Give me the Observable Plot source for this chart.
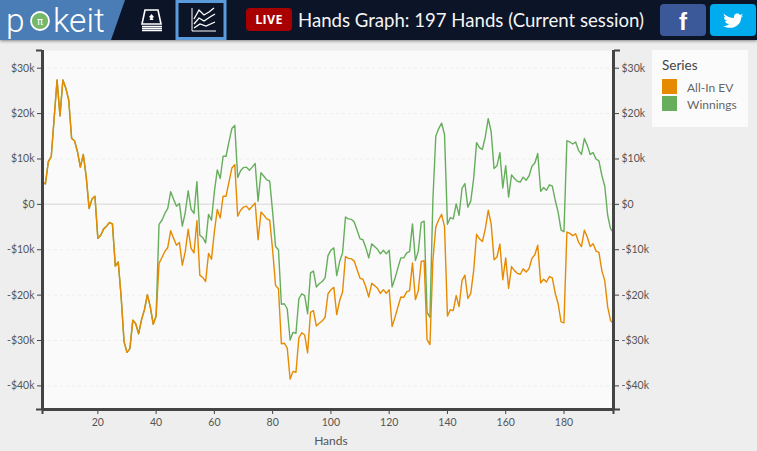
<!DOCTYPE html>
<html><head><meta charset="utf-8">
<script src="https://cdn.jsdelivr.net/npm/d3@7"></script>
<script src="https://cdn.jsdelivr.net/npm/@observablehq/plot@0.6"></script>
<style>
html,body{margin:0;padding:0;background:#eeeeee;overflow:hidden;}
body{width:757px;height:451px;position:relative;font-family:Lato,"Open Sans",sans-serif;}
#hdr{position:relative;width:757px;height:40px;background:#0c1428;box-shadow:0 1px 3px rgba(0,0,0,.45);z-index:2;}
#hdr svg{position:absolute;left:0;top:0;}
#ttl{position:absolute;left:298px;top:8px;font-size:18.6px;line-height:24px;color:#f4f4f4;white-space:nowrap;font-family:Lato,sans-serif;}
#live{position:absolute;left:246px;top:8px;width:46px;height:23px;border-radius:4px;background:#a80000;color:#fff;font:bold 12.5px/23px "Open Sans",sans-serif;text-align:center;letter-spacing:.3px;}
#chart{position:absolute;left:0;top:40px;}
#legend{position:absolute;left:652px;top:50px;width:96px;height:77px;background:#fbfbfb;z-index:1;color:#555;}
#legend .t{position:absolute;left:10px;top:7px;font-size:13.5px;line-height:16px;color:#444;}
#legend .s{position:absolute;left:10px;width:15px;height:15px;}
#legend .l{position:absolute;left:35px;font-size:12px;line-height:15px;color:#666;}
</style></head><body>
<div id="hdr">
<svg width="757" height="40" viewBox="0 0 757 40">
<polygon points="0,0 125,0 111,40 0,40" fill="#4a7db5"/>
<text x="6" y="31.500" font-family="Roboto" font-weight="300" font-size="33.500" fill="#fff">p</text>
<circle cx="40" cy="21" r="9" fill="#76b86a" stroke="#fff" stroke-width="1.800"/>
<text x="40" y="25" font-family="DejaVu Sans" font-size="10" fill="#fff" text-anchor="middle">π</text>
<text x="53" y="31.500" font-family="Roboto" font-weight="300" font-size="33.500" fill="#fff">keit</text>
<rect x="177" y="1.500" width="48" height="37" fill="none" stroke="#5b9bdc" stroke-width="3"/>
<g fill="none" stroke="#fff">
<path d="M145,10 L158,10 L161,24 L142,24 Z" stroke-width="1.600"/>
<path d="M142,26.500 H162 M142,28.500 H162 M142,30.500 H162" stroke-width="1.300"/>
<path d="M192,8 V31 H216" stroke-width="1"/>
<path d="M194,19 L199,10 L204,15 L209,12 L214,8 M194,24 L199,18 L204,21 L210,17 L215,14 M194,28 L200,24 L206,26 L215,22" stroke-width="1.300"/>
</g>
<path d="M151.500,14 l2.500,3 l-1.500,1 l1,2 h-4 l1,-2 l-1.500,-1 z" fill="#fff"/>
<rect x="660" y="4" width="46" height="32" rx="4" fill="#3b5998"/>
<rect x="710" y="4" width="46" height="32" rx="4" fill="#00aced"/>
<text x="683" y="30" font-family="Liberation Sans" font-weight="bold" font-size="24" fill="#fff" text-anchor="middle">f</text>
<path d="M724,14 c4,3 7,4 10,4 c-1,-4 4,-6 6,-3 l3,-1 l-2,2.500 l2,-.5 l-2,2 c0,7 -8,13 -18,8 c3,0 5,-.5 6,-2 c-2,0 -3.500,-1 -4,-3 l2,0 c-2,-1 -3,-2 -3,-4 l2,.5 c-2,-1.500 -2.500,-3 -2,-4.500 z" fill="#fff"/>
</svg>
<div id="live">LIVE</div>
<div id="ttl">Hands Graph: 197 Hands (Current session)</div>
</div>
<div id="chart"></div>
<div id="legend">
<div class="t">Series</div>
<div class="s" style="top:29px;background:#e68a00"></div><div class="l" style="top:30px">All-In EV</div>
<div class="s" style="top:46px;background:#66ad5c"></div><div class="l" style="top:47px">Winnings</div>
</div>
<script>
const seriesNames = ["All-In EV", "Winnings"];
const seriesColors = ["#e68a00", "#66ad5c"];
const yTicks = [30,20,10,0,-10,-20,-30,-40];
const xTicks = [20,40,60,80,100,120,140,160,180];
const allInEV = [
4.9,4.5,9.4,10.5,19,27.4,19.5,27.4,25.6,23,14.5,14,11.6,8.2,11,6.1,-0.9,1.2,1.8,-7.5,
-6.8,-5.4,-4.8,-4,-4.3,-13.6,-12.7,-20.4,-30.3,-32.6,-31.8,-25.5,-26.3,-28.5,-25.4,-23.2,-19.9,-22.6,-26.4,-24.6,
-13,-11.7,-10.4,-9.5,-5.8,-7.5,-9,-8.4,-13.4,-10.4,-5.5,-9.7,-10.7,-3.6,-15.6,-16.1,-17,-10.8,-12.1,-6,
-1.1,-3,1.8,1.8,4.9,8,8.75,-2.6,-1.3,-0.6,-0.4,-1.2,-0.4,0.3,-7.8,-1.7,-2.4,-3.2,-3.5,-10.1,
-17.9,-18.6,-30.7,-30.6,-31.6,-38.5,-36.8,-37,-29.4,-28.3,-28.8,-32.7,-23.8,-23.4,-26.8,-26.2,-25.7,-24.9,-19.7,-18.8,
-18.3,-24.3,-21.2,-19.3,-11.5,-11.9,-12,-12.5,-14.4,-16.3,-16.5,-18.2,-20.4,-17.4,-17.9,-18.5,-19.6,-18.8,-19.6,-18.8,
-26.9,-24.9,-22.6,-20.4,-20.5,-19.3,-19,-12.9,-21,-19,-12.6,-12.4,-29.8,-30.9,-12.4,-5,-3.4,-2.2,-4.9,-24.6,
-23.2,-23.4,-20.1,-22.5,-16.8,-15.6,-20.7,-19.6,-14.6,-6.6,-7.6,-8.2,-5.4,-1.3,-4.3,-12.2,-11.6,-8.75,-16.6,-11.8,
-18.5,-13.7,-14.6,-15.2,-15.4,-14.2,-14.9,-14.2,-11.9,-11.1,-9,-17.3,-16.5,-17.1,-15.9,-16.2,-19.6,-21.9,-25.9,-26.1,
-6.1,-6.4,-6.9,-6.5,-8.3,-9.3,-5.7,-7.2,-9.3,-8.7,-10.3,-10.6,-14.6,-16.8,-22.6,-25.6,-26.3];
const winnings = [
4.9,4.5,9.4,10.5,19,27.4,19.5,27.4,25.6,23,14.5,14,11.6,8.2,11,6.1,-0.9,1.2,1.8,-7.5,
-6.8,-5.4,-4.8,-4,-4.3,-13.6,-12.7,-20.4,-30.3,-32.6,-31.8,-25.5,-26.3,-28.5,-25.4,-23.2,-19.9,-22.6,-26.4,-24.6,
-4.4,-3.5,-2,-0.9,2.8,1.1,-0.4,0.2,-4.8,-1.8,3,-1.1,-2,5,-6.8,-7.3,-8.5,-2.2,-3.5,2.8,
7.6,5.7,10.6,10.6,13.75,16.7,17.4,5.9,7.4,8.1,8.2,7.5,8.2,9,0.7,7,6.2,5.4,5.1,-1.7,
-9.3,-10,-22,-21.9,-23,-29.9,-28.2,-28.4,-20.8,-19.7,-20.1,-24.1,-15.1,-14.7,-18.2,-17.5,-17,-16.2,-11.3,-10.1,
-9.6,-15.7,-12.6,-10.7,-2.8,-3.2,-3.3,-3.9,-5.7,-7.6,-7.8,-9.6,-11.8,-8.7,-9.3,-9.9,-10.9,-10.1,-10.9,-10.1,
-18.2,-16.3,-14,-11.8,-11.8,-10.7,-10.4,-4.3,-12.4,-10.3,-4,-3.7,-23.8,-24.9,0.9,15,16.7,17.9,15.4,-4.4,
-2.9,-3.2,0.1,-2.4,3.5,4.6,-0.6,0.7,5.7,13.6,12.5,12.1,14.9,18.9,16,7.9,8.5,11.4,3.6,8.5,
1.6,6.5,5.7,5.1,4.9,6,5.3,6.25,8.4,9.1,11.2,2.9,3.7,3.1,4.3,4,0.9,-1.7,-5.7,-6,
14,13.75,13.3,13.75,11.9,11,14.5,13,11,11.4,10,9.6,6.4,4,-2.4,-5.4,-6.2];

const hands = winnings.map((_, i) => i + 1);
const yTop = 33.9, yBottom = -45.2;
const fmt = d => (d < 0 ? "-$" : "$") + Math.abs(d) + (d === 0 ? "" : "k");
const axisColor = "#444";
const textColor = "#555";
const axisStyle = {fontSize: 10.500, fontFamily: "Lato, sans-serif"};

const plot = Plot.plot({
  width: 757, height: 411,
  marginLeft: 42, marginRight: 144, marginTop: 10, marginBottom: 42,
  style: {background: "transparent", fontFamily: "Lato, sans-serif"},
  x: {domain: [1, 197], label: null},
  y: {domain: [yBottom, yTop], label: null},
  marks: [
    Plot.frame({fill: "#fafafa", stroke: "none"}),
    Plot.ruleY(yTicks.filter(d => d !== 0), {stroke: "#eeeeee", strokeDasharray: "3,3", strokeWidth: 1}),
    Plot.ruleY([0], {stroke: "#e2e2e2", strokeWidth: 1.500}),
    Plot.line(hands, {x: d => d, y: d => winnings[d - 1], stroke: seriesColors[1], strokeWidth: 1.400, curve: "linear"}),
    Plot.line(hands, {x: d => d, y: d => allInEV[d - 1], stroke: seriesColors[0], strokeWidth: 1.400, curve: "linear"}),
    Plot.axisY({anchor: "left", ticks: yTicks, tickFormat: fmt, tickSize: 5, tickPadding: 3, stroke: axisColor, fill: textColor, label: null, ...axisStyle}),
    Plot.axisY({anchor: "right", ticks: yTicks, tickFormat: fmt, tickSize: 5, tickPadding: 3, stroke: axisColor, fill: textColor, label: null, ...axisStyle}),
    Plot.axisX({ticks: xTicks, tickFormat: d => d, tickSize: 5, tickPadding: 4, stroke: axisColor, fill: textColor, label: null, ...axisStyle}),
    Plot.text(["Hands"], {x: () => 100, frameAnchor: "bottom", dy: 32, fontSize: 12, fill: textColor, lineAnchor: "middle"}),
    Plot.axisY({anchor: "left", ticks: [yTop, yBottom], tickFormat: () => "", tickSize: 6, stroke: axisColor, strokeWidth: 2, label: null}),
    Plot.axisY({anchor: "right", ticks: [yTop, yBottom], tickFormat: () => "", tickSize: 6, stroke: axisColor, strokeWidth: 2, label: null}),
    Plot.axisX({ticks: [1, 197], tickFormat: () => "", tickSize: 5, stroke: axisColor, strokeWidth: 2, label: null}),
    Plot.ruleX([1, 197], {stroke: axisColor, strokeWidth: 3}),
    Plot.ruleY([yBottom], {stroke: axisColor, strokeWidth: 3})
  ]
});
document.getElementById("chart").appendChild(plot);
</script>
</body></html>
